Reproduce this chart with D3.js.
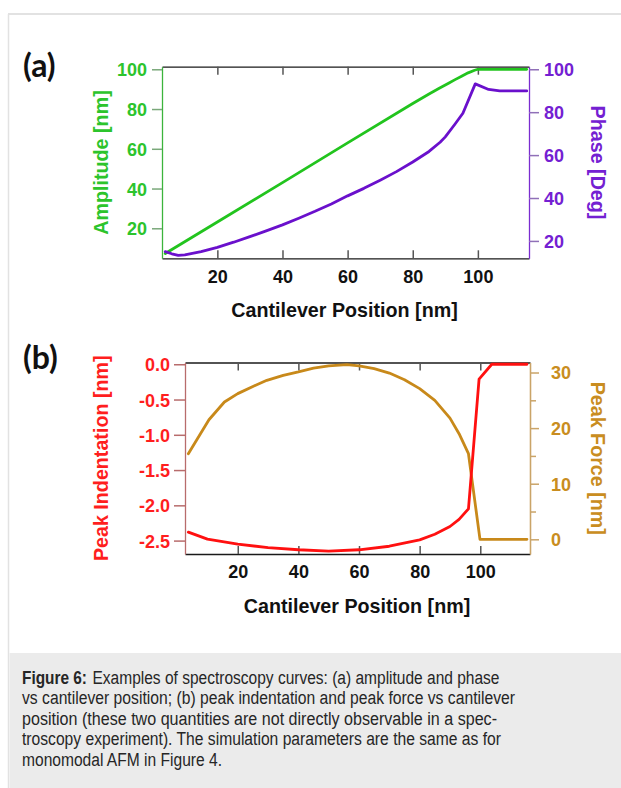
<!DOCTYPE html>
<html>
<head>
<meta charset="utf-8">
<script src="https://cdn.jsdelivr.net/npm/d3@7"></script>
<style>
  html, body { margin: 0; padding: 0; background: #fff; }
  svg { display: block; }
</style>
</head>
<body>
<svg id="chart" width="621" height="788"></svg>
<script>
// ---------- DATA ----------
const xTicks = [20, 40, 60, 80, 100];

// Panel (a)
const amplitudePos = [4, 20, 40, 60, 80, 85, 88, 91, 93, 95, 97, 99, 100, 115];
const amplitude    = [7.3, 23.2, 43, 63, 82.8, 87.6, 90.3, 93, 94.8, 96.5, 98.2, 99.5, 100, 100];
const phasePos = [4, 6, 8, 10, 15, 20, 25, 30, 35, 40, 45, 50, 55, 60, 65, 70, 75, 80, 85, 88.4, 90, 93, 95.4, 99.2, 103.3, 106.7, 115];
const phase    = [15, 14, 13.3, 13.5, 15, 17, 19.4, 22, 24.7, 27.5, 30.6, 33.8, 37.2, 41, 44.5, 48.3, 52.3, 56.8, 61.7, 66, 68.5, 74.5, 79.5, 93.2, 90.6, 89.9, 89.9];
const amplitudeTicks = [20, 40, 60, 80, 100];
const phaseTicks = [20, 40, 60, 80, 100];

// Panel (b)
const indentPos = [3.7, 10, 20, 30, 40, 50, 60, 70, 80, 85, 90, 93, 96.1, 99.6, 103.8, 115.4];
const indentation = [-2.38, -2.48, -2.55, -2.6, -2.63, -2.65, -2.63, -2.58, -2.49, -2.41, -2.3, -2.2, -2.05, -0.21, 0, 0];
const forcePos = [3.7, 10.5, 15.6, 20, 25, 29.6, 35, 40, 45, 50, 56, 60, 65, 70, 75, 80, 85, 90, 93, 96.1, 99.9, 115.4];
const force    = [15.4, 21.5, 24.7, 26.2, 27.5, 28.6, 29.5, 30.1, 30.8, 31.2, 31.4, 31.2, 30.7, 29.9, 28.7, 27.1, 25, 21.8, 19, 15.4, 0, 0];
const indentTicks = [0, -0.5, -1.0, -1.5, -2.0, -2.5];
const forceTicks = [0, 10, 20, 30];
const forceMinorTicks = [5, 15, 25];

const captionLead = "Figure 6:";
const captionLines = [
  "Examples of spectroscopy curves: (a) amplitude and phase",
  "vs cantilever position; (b) peak indentation and peak force vs cantilever",
  "position (these two quantities are not directly observable in a spec-",
  "troscopy experiment). The simulation parameters are the same as for",
  "monomodal AFM in Figure 4."
];
const captionWidths = [407, 493, 475, 479, 200];

// ---------- STYLE ----------
const C = {
  green: "#22c41e", greenText: "#2cc42c", greenAxis: "#3cb43c", greenTick: "#7aa87a",
  purple: "#6a10cc", purpleText: "#7420d2", purpleAxis: "#7a2cd0", purpleTick: "#9070b8",
  red: "#ff1010", redText: "#ff1e1e", redAxis: "#b86c6c",
  gold: "#c8891a", goldText: "#c98d20", goldAxis: "#caa468",
  frame: "#1a1a1a", tick: "#555"
};
const tickFont = "bold 18px 'Liberation Sans', Arial, sans-serif";
const titleFont = "bold 19.7px 'Liberation Sans', Arial, sans-serif";
const hyphenFmt = d3.format(".1f");
const fmtIndent = d => hyphenFmt(d).replace("\u2212", "-");

const svg = d3.select("#chart");

// page frame
svg.append("line").attr("x1", 8).attr("x2", 621).attr("y1", 14).attr("y2", 14)
  .attr("stroke", "#e2e2e2").attr("stroke-width", 2);
svg.append("line").attr("x1", 8.5).attr("x2", 8.5).attr("y1", 14).attr("y2", 788)
  .attr("stroke", "#e2e2e2").attr("stroke-width", 1.5);
svg.append("rect").attr("x", 9.5).attr("y", 653).attr("width", 612).attr("height", 135)
  .attr("fill", "#ebebeb");

function styleAxis(g, lineColor, tickColor, textColor, font) {
  g.select(".domain").attr("stroke", lineColor).attr("stroke-width", 1.3);
  g.selectAll(".tick line").attr("stroke", tickColor).attr("stroke-width", 1.5);
  g.selectAll(".tick text").attr("fill", textColor).style("font", font);
}

function panel(opt) {
  const { x, yL, yR } = opt;
  const [x0, x1] = x.range();
  const [yb, yt] = yL.range();

  const gTop = svg.append("g").attr("transform", `translate(0,${yt})`)
    .call(d3.axisTop(x).tickValues(xTicks).tickSizeInner(-8).tickSizeOuter(0).tickFormat(""));
  styleAxis(gTop, C.frame, C.tick, "#000", tickFont);

  const gBot = svg.append("g").attr("transform", `translate(0,${yb})`)
    .call(d3.axisBottom(x).tickValues(xTicks).tickSizeInner(-8).tickSizeOuter(0).tickPadding(0));
  styleAxis(gBot, C.frame, C.tick, "#111", tickFont);
  gBot.selectAll(".tick text").attr("y", opt.xLabelBase).attr("dy", 0);

  const gL = svg.append("g").attr("transform", `translate(${x0},0)`)
    .call(d3.axisLeft(yL).tickValues(opt.leftTicks).tickSize(opt.leftTickLen).tickSizeOuter(0)
      .tickPadding(opt.leftPad).tickFormat(opt.leftFormat));
  styleAxis(gL, opt.leftAxis, opt.leftTick, opt.leftText, tickFont);
  gL.selectAll(".tick text").attr("dy", "0.36em");

  if (opt.rightMinor) {
    const gM = svg.append("g").attr("transform", `translate(${x1},0)`)
      .call(d3.axisRight(yR).tickValues(opt.rightMinor).tickSize(6).tickSizeOuter(0).tickFormat(""));
    styleAxis(gM, opt.rightAxis, opt.rightTick, opt.rightText, tickFont);
  }
  const gR = svg.append("g").attr("transform", `translate(${x1},0)`)
    .call(d3.axisRight(yR).tickValues(opt.rightTicks).tickSize(opt.rightTickLen).tickSizeOuter(0)
      .tickPadding(opt.rightPad).tickFormat(d3.format("d")));
  styleAxis(gR, opt.rightAxis, opt.rightTick, opt.rightText, tickFont);
  gR.selectAll(".tick text").attr("dy", "0.36em");

  opt.series.forEach(s => {
    const line = d3.line().x(d => x(d[0])).y(d => s.y(d[1]));
    svg.append("path").datum(d3.zip(s.xs, s.ys))
      .attr("fill", "none").attr("stroke", s.color).attr("stroke-width", 2.8)
      .attr("stroke-linejoin", "round").attr("stroke-linecap", "round")
      .attr("d", line);
  });

  svg.append("text").attr("x", (x0 + x1) / 2 + opt.xTitleShift).attr("y", opt.xTitleBase)
    .attr("text-anchor", "middle").style("font", titleFont).attr("fill", "#111")
    .text("Cantilever Position [nm]");
  svg.append("text").attr("transform", `translate(${opt.leftTitleX},${(yb + yt) / 2}) rotate(-90)`)
    .attr("text-anchor", "middle").attr("dy", "0.35em").style("font", titleFont)
    .attr("fill", opt.leftText).text(opt.leftTitle);
  svg.append("text").attr("transform", `translate(${opt.rightTitleX},${(yb + yt) / 2}) rotate(90)`)
    .attr("text-anchor", "middle").attr("dy", "0.35em").style("font", titleFont)
    .attr("fill", opt.rightText).text(opt.rightTitle);

  svg.append("text").attr("x", 23).attr("y", opt.letterBase)
    .style("font", "bold 32px Lato, 'Open Sans', sans-serif").attr("fill", "#111")
    .text(opt.letter);
}

// ---------- PANEL (a) ----------
const xA = d3.scaleLinear().domain([3, 115.7]).range([162, 529]);
const yAmp = d3.scaleLinear().domain([4.9, 101.3]).range([258.3, 66.7]);
const yPh = d3.scaleLinear().domain([11.9, 101.2]).range([258.3, 66.7]);
panel({
  x: xA, yL: yAmp, yR: yPh,
  leftTicks: amplitudeTicks, rightTicks: phaseTicks, leftFormat: d3.format("d"),
  leftTickLen: 10, leftPad: 5, rightTickLen: 10, rightPad: 5,
  leftAxis: C.greenAxis, leftTick: C.greenTick, leftText: C.greenText,
  rightAxis: C.purpleAxis, rightTick: C.purpleTick, rightText: C.purpleText,
  leftTitle: "Amplitude [nm]", rightTitle: "Phase [Deg]",
  leftTitleX: 101.5, rightTitleX: 598,
  xLabelBase: 25, xTitleBase: 317, xTitleShift: -1,
  letter: "(a)", letterBase: 77,
  series: [
    { xs: amplitudePos, ys: amplitude, y: yAmp, color: C.green },
    { xs: phasePos, ys: phase, y: yPh, color: C.purple }
  ]
});

// ---------- PANEL (b) ----------
const xB = d3.scaleLinear().domain([2.6, 116.4]).range([185, 530]);
const yInd = d3.scaleLinear().domain([-2.69, 0.025]).range([554, 362.5]);
const yF = d3.scaleLinear().domain([-2.64, 31.8]).range([554, 362.5]);
panel({
  x: xB, yL: yInd, yR: yF,
  leftTicks: indentTicks, rightTicks: forceTicks, rightMinor: forceMinorTicks,
  leftFormat: fmtIndent,
  leftTickLen: 11, leftPad: 4, rightTickLen: 9, rightPad: 12,
  leftAxis: C.redAxis, leftTick: C.redAxis, leftText: C.redText,
  rightAxis: C.goldAxis, rightTick: C.goldAxis, rightText: C.goldText,
  leftTitle: "Peak Indentation [nm]", rightTitle: "Peak Force [nm]",
  leftTitleX: 101.5, rightTitleX: 598,
  xLabelBase: 24, xTitleBase: 613, xTitleShift: -0.5,
  letter: "(b)", letterBase: 369,
  series: [
    { xs: forcePos, ys: force, y: yF, color: C.gold },
    { xs: indentPos, ys: indentation, y: yInd, color: C.red }
  ]
});

// ---------- CAPTION ----------
const capFont = "18px 'Liberation Sans', Arial, sans-serif";
svg.append("text").attr("x", 22).attr("y", 683.5)
  .attr("textLength", 65).attr("lengthAdjust", "spacingAndGlyphs")
  .style("font", capFont).style("font-weight", "bold").attr("fill", "#262626")
  .text(captionLead);
captionLines.forEach((line, i) => {
  svg.append("text").attr("x", i === 0 ? 92.5 : 22).attr("y", 683.5 + i * 20.5)
    .attr("textLength", captionWidths[i]).attr("lengthAdjust", "spacingAndGlyphs")
    .style("font", capFont).attr("fill", "#262626")
    .text(line);
});
</script>
</body>
</html>
